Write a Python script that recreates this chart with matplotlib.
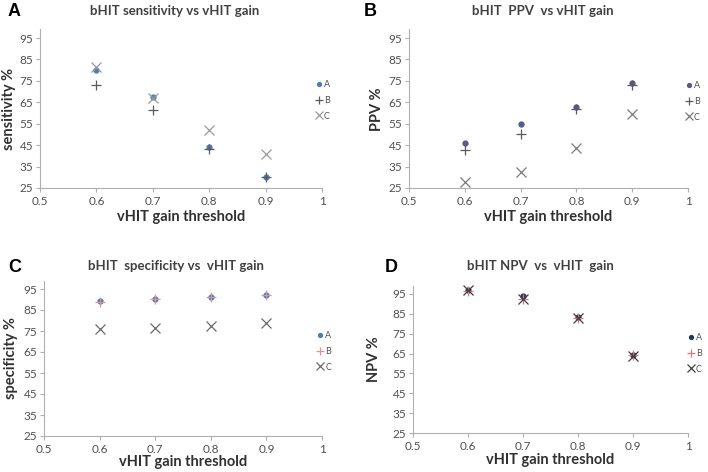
import matplotlib
matplotlib.use("Agg")
import matplotlib.pyplot as plt

thresholds = [0.6, 0.7, 0.8, 0.9]

sens_A = [80, 67.5, 44, 30]
sens_B = [73, 61.5, 43, 30]
sens_C = [81.5, 67, 52, 41]

ppv_A = [46.2, 54.8, 62.8, 73.9]
ppv_B = [42.8, 50.2, 61.9, 73.1]
ppv_C = [27.7, 32.7, 43.6, 59.6]

spec_A = [89.1, 90.2, 91.0, 92.1]
spec_B = [89.0, 90.1, 91.0, 92.0]
spec_C = [75.8, 76.3, 77.4, 78.7]

npv_A = [97.0, 93.8, 83.3, 64.2]
npv_B = [96.6, 92.5, 83.0, 64.4]
npv_C = [97.0, 92.6, 83.0, 64.0]

series_labels = ["A", "B", "C"]
yticks = [25, 35, 45, 55, 65, 75, 85, 95]
xticks = [0.5, 0.6, 0.7, 0.8, 0.9, 1.0]
xticklabels = ["0.5", "0.6", "0.7", "0.8", "0.9", "1"]

W, H = 708, 472
fig = plt.figure(figsize=(W / 100, H / 100), dpi=100)
plt.rcParams['font.family'] = ['Lato', 'DejaVu Sans']

def fr(x0, x1, y_bottom, y_top):
    return [x0 / W, 1 - y_bottom / H, (x1 - x0) / W, (y_bottom - y_top) / H]

panels = [
    dict(letter="A", title="bHIT sensitivity vs vHIT gain", ylabel="sensitivity %",
         data=(sens_A, sens_B, sens_C), box=(40, 322, 188, 38),
         colors=("#4a7ebb", "#5a5a5a", "#9a9a9a"),
         letter_xy=(8, 12), title_xy=(175, 11), xlabel_y=217, ylabel_x=9,
         leg_xy=(316, 86)),
    dict(letter="B", title="bHIT  PPV  vs vHIT gain", ylabel="PPV %",
         data=(ppv_A, ppv_B, ppv_C), box=(409, 688, 188, 38),
         colors=("#575a8c", "#5a5a5a", "#7a7a7a"),
         letter_xy=(364, 12), title_xy=(543, 11), xlabel_y=217, ylabel_x=377,
         leg_xy=(686, 87)),
    dict(letter="C", title="bHIT  specificity vs  vHIT gain", ylabel="specificity %",
         data=(spec_A, spec_B, spec_C), box=(44, 322, 436, 289),
         colors=("#4a7ebb", "#d99694", "#6a6a6a"),
         letter_xy=(8, 268), title_xy=(176, 266), xlabel_y=462, ylabel_x=11,
         leg_xy=(317, 337)),
    dict(letter="D", title="bHIT NPV  vs  vHIT  gain", ylabel="NPV %",
         data=(npv_A, npv_B, npv_C), box=(413, 688, 433, 294),
         colors=("#1f3a68", "#e07878", "#404040"),
         letter_xy=(385, 268), title_xy=(540, 266), xlabel_y=460, ylabel_x=374,
         leg_xy=(688, 339)),
]

for p in panels:
    x0, x1, yb, y95 = p["box"]
    ytop = yb - (yb - y95) / 70 * 74
    ax = fig.add_axes(fr(x0, x1, yb, ytop))
    ax.set_xlim(0.5, 1.0)
    ax.set_ylim(25, 99)
    a, b, c = p["data"]
    ca, cb, cc = p["colors"]
    ha = ax.plot(thresholds, a, linestyle="none", marker="o", ms=3.5, color=ca,
                 label="A", clip_on=False)[0]
    hb = ax.plot(thresholds, b, linestyle="none", marker="+", ms=7, mew=0.9, color=cb,
                 label="B", clip_on=False)[0]
    hc = ax.plot(thresholds, c, linestyle="none", marker="x", ms=6.5, mew=0.9, color=cc,
                 label="C", clip_on=False)[0]
    for s in ("top", "right"):
        ax.spines[s].set_visible(False)
    for s in ("left", "bottom"):
        ax.spines[s].set_color("#b0b0b0")
        ax.spines[s].set_linewidth(0.8)
    ax.set_xticks(xticks)
    ax.set_xticklabels(xticklabels)
    ax.set_yticks(yticks)
    ax.tick_params(axis="x", direction="out", length=3, color="#b0b0b0",
                   labelsize=8.5, labelcolor="#505050", pad=3)
    ax.tick_params(axis="y", direction="out", length=3, color="#b0b0b0",
                   labelsize=8.5, labelcolor="#505050", pad=2)
    ax.patch.set_alpha(0)

    fig.text(p["title_xy"][0] / W, 1 - p["title_xy"][1] / H, p["title"],
             ha="center", va="center", fontsize=9.5, fontweight="bold", color="#404040")
    fig.text(p["letter_xy"][0] / W, 1 - p["letter_xy"][1] / H, p["letter"],
             ha="left", va="center", fontsize=13, fontweight="bold", color="#000000",
             family="Liberation Sans")
    fig.text((x0 + x1) / 2 / W, 1 - p["xlabel_y"] / H, "vHIT gain threshold",
             ha="center", va="center", fontsize=10.5, fontweight="bold", color="#303030")
    fig.text(p["ylabel_x"] / W, 1 - (yb + ytop) / 2 / H, p["ylabel"],
             ha="center", va="center", rotation=90, fontsize=10.5, fontweight="bold",
             color="#303030")
    lx, ly = p["leg_xy"]
    fig.legend(handles=[ha, hb, hc], labels=series_labels, loc="upper left",
               bbox_to_anchor=(lx / W, 1 - (ly - 6) / H), frameon=False,
               fontsize=6.5, labelcolor="#505050", handlelength=0.6,
               handletextpad=0.3, labelspacing=0.75, borderpad=0, borderaxespad=0,
               markerscale=0.8)

fig.savefig("out.png", dpi=100)
